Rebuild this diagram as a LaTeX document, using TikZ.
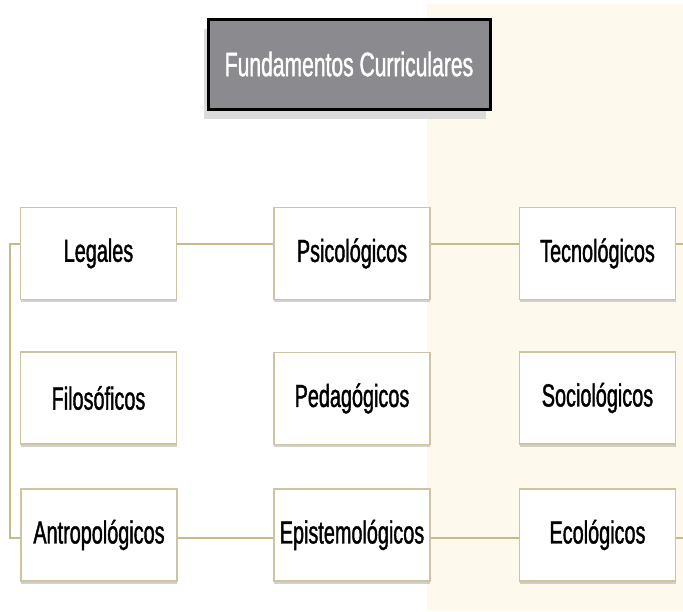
\documentclass[tikz,border=0pt]{standalone}
\usepackage{fontspec}
\setmainfont{Liberation Sans}[FakeStretch=0.62,FakeBold=1.2]
\usetikzlibrary{shadows}
\definecolor{cream}{RGB}{254,249,237}
\definecolor{tanline}{RGB}{196,186,142}
\definecolor{tanedge}{RGB}{206,197,160}
\definecolor{titlegray}{RGB}{139,139,143}
\def\fundnode{\node[draw=tanedge,line width=1.6pt,fill=white,minimum width=156pt,minimum height=92pt,font=\fontsize{32}{36}\selectfont,drop shadow={shadow xshift=0pt,shadow yshift=-2.5pt,fill=black!30,opacity=.6}]}

\begin{document}
\begin{tikzpicture}[x=1pt,y=-1pt,link/.style={draw=tanline,line width=2pt}]
\useasboundingbox (0,0) rectangle (683,611);
\fill[cream] (427,4) rectangle (683,611);
\node[draw=black,line width=3pt,fill=titlegray,text=white,minimum width=282pt,minimum height=90pt,font=\fontsize{34}{40}\selectfont,drop shadow={shadow xshift=-4pt,shadow yshift=-10pt,fill=black!14,opacity=1}] (title) at (349,64) {Fundamentos Curriculares};
\fundnode (legales) at (98.5,253.5) {Legales};
\fundnode (psico) at (352,253.5) {Psicológicos};
\fundnode (tecno) at (597.5,253.5) {Tecnológicos};
\fundnode (filo) at (98.5,398) {Filosóficos};
\fundnode (peda) at (352,398.5) {Pedagógicos};
\fundnode (socio) at (597.5,398) {Sociológicos};
\fundnode (antro) at (99,535) {Antropológicos};
\fundnode (episte) at (352,535) {Epistemológicos};
\fundnode (eco) at (597.5,535) {Ecológicos};
\coordinate (rtop) at (683,243.5);
\coordinate (rbot) at (683,538);
\coordinate (brk) at (10,538);
% top row
\draw[link] ([yshift=10pt]legales.east) -- ([yshift=10pt]psico.west);
\draw[link] ([yshift=10pt]psico.east) -- ([yshift=10pt]tecno.west);
\draw[link] ([yshift=10pt]tecno.east) -- (rtop);
% bottom row
\draw[link] ([yshift=-3pt]antro.east) -- ([yshift=-3pt]episte.west);
\draw[link] ([yshift=-3pt]episte.east) -- ([yshift=-3pt]eco.west);
\draw[link] ([yshift=-3pt]eco.east) -- (rbot);
\draw[link] ([yshift=10pt]legales.west) -| (brk) -- ([yshift=-3pt]antro.west);
\end{tikzpicture}
\end{document}
